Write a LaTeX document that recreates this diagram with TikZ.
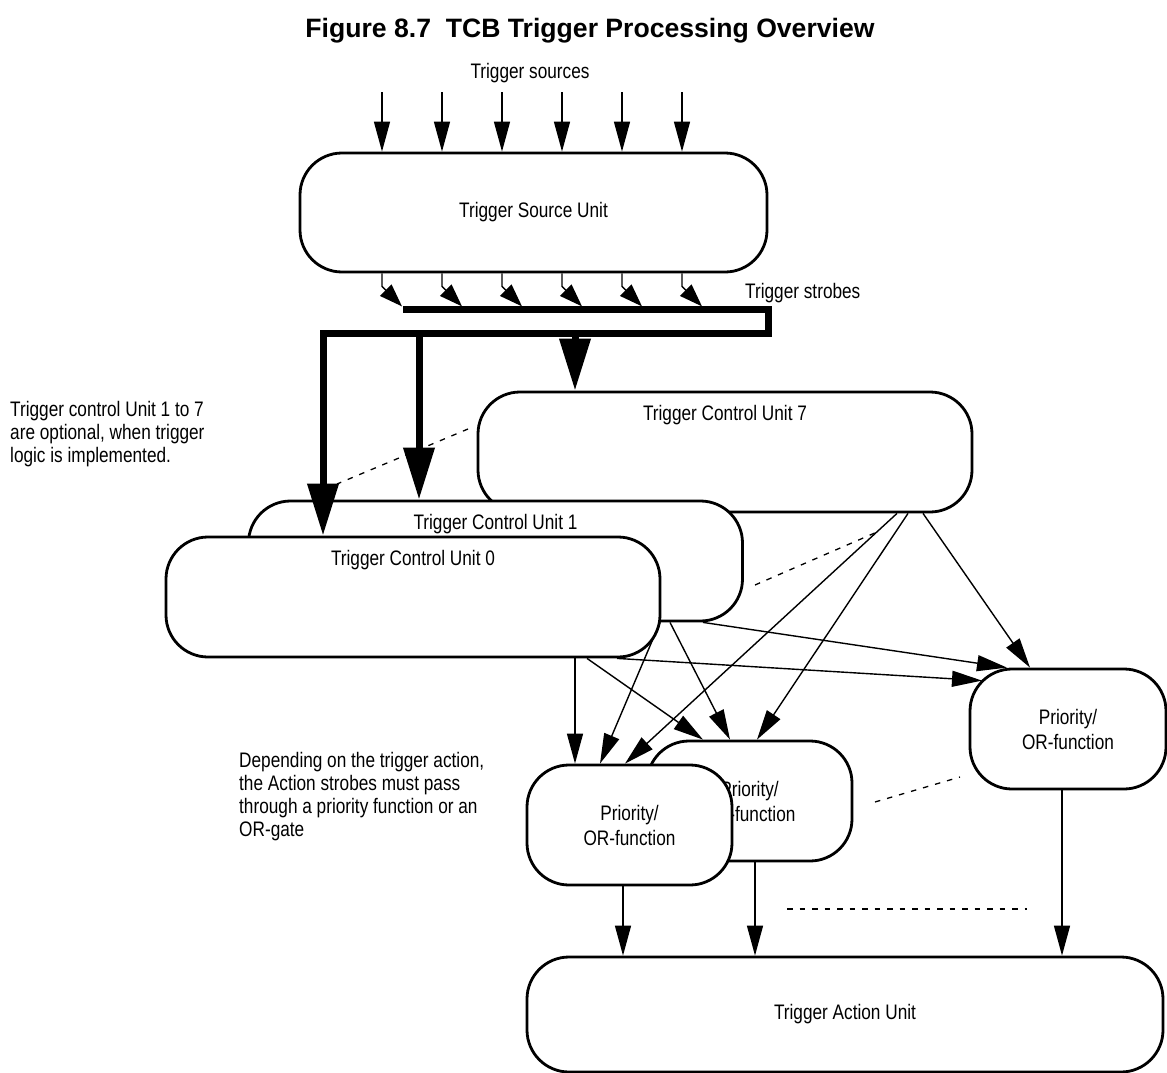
\documentclass[tikz,border=0pt]{standalone}
\usepackage{fontspec}
\setmainfont{Liberation Sans}[FakeStretch=0.82]
\newfontfamily\titlefont{Liberation Sans}
\usepackage{tikz}
\usetikzlibrary{arrows.meta}

\begin{document}
\begin{tikzpicture}[
    x=1pt, y=-1pt,
    box/.style={draw, fill=white, rounded corners=42pt, line width=2.8pt,
                font=\fontsize{21}{23}\selectfont},
    unit/.style={box, minimum width=494pt, minimum height=120pt, inner sep=0pt,
                 text height=28.5pt, text depth=91.5pt},
    prio/.style={box, minimum width=205pt, minimum height=120pt, align=center,
                 font=\fontsize{21}{25}\selectfont},
    arr/.style={-{Triangle[length=30pt, width=16pt]}, line width=1.4pt},
    bus/.style={-{Triangle[length=52pt, width=30pt]}, line width=7pt},
    dots/.style={line width=1.3pt, dash pattern=on 5.5pt off 7pt},
    lbl/.style={font=\fontsize{21}{23}\selectfont, inner sep=0pt},
    note/.style={lbl, align=left, anchor=west},
]
    \useasboundingbox (0,0) rectangle (1167,1073);

    % Title
    \node[lbl, font=\titlefont\bfseries\fontsize{26.6}{30}\selectfont] (title) at (590,31)
        {Figure 8.7~~TCB Trigger Processing Overview};

    % Source unit
    \node[box, minimum width=467pt, minimum height=119pt] (tsu) at (533.5,212.5)
        {Trigger Source Unit};
    \node[lbl] (srclbl) at (530,73) {Trigger sources};

    % Control units, back to front
    \node[unit] (tcu7) at (725,452) {Trigger Control Unit 7};
    \node[unit] (tcu1) at (495.5,561) {Trigger Control Unit 1};
    \node[unit] (tcu0) at (413,597) {Trigger Control Unit 0};

    % Priority / OR functions
    \node[prio] (prm) at (749.5,801) {Priority/\\OR-function};
    \node[prio] (prl) at (629.5,825) {Priority/\\OR-function};
    \node[prio, minimum width=196pt] (prr) at (1068,729) {Priority/\\OR-function};

    % Action unit
    \node[box, minimum width=636pt, minimum height=115pt] (tau) at (845,1014.5)
        {Trigger Action Unit};

    % Notes
    \node[lbl, anchor=west] (strlbl) at (745,293) {Trigger strobes};
    \node[note] (optnote) at (10,434)
        {Trigger control Unit 1 to 7\\are optional, when trigger\\logic is implemented.};
    \node[note] (actnote) at (239,796.5)
        {Depending on the trigger action,\\the Action strobes must pass\\through a priority function or an\\OR-gate};

    % Sources and strobes
    \foreach \x [count=\i] in {382,442,502,562,622,682} {
        \coordinate (src\i) at (\x,92);
        \draw[arr] (src\i) -- (src\i |- tsu.north);
        \draw[arr, -{Triangle[length=23pt, width=16pt]}]
            (src\i |- tsu.south) -- ++(0,13) -- ++(20,20);
    }

    % Strobe bus
    \coordinate (busA) at (403,309);
    \coordinate (busB) at (768,333);
    \coordinate (tap0) at (323,333);
    \coordinate (tap1) at (419,333);
    \coordinate (tap7) at (575,333);
    \draw[bus] (busA) -| (busB) -- (tap0) -- (tap0 |- tcu0.north);
    \draw[bus] (tap1) -- (tap1 |- tcu1.north);
    \draw[bus] (tap7) -- (tap7 |- tcu7.north);

    % Control units to priority functions
    \draw[arr] ([xshift=162pt]tcu0.south) -- ([xshift=162pt]tcu0.south |- prl.north);
    \draw[arr] ([xshift=174pt]tcu0.south) -- ([xshift=-46.5pt]prm.north);
    \draw[arr] ([xshift=204pt]tcu0.south) -- ([xshift=-86pt, yshift=-13pt]prr.north);
    \draw[arr] ([xshift=164.5pt]tcu1.south) -- ([xshift=-29.5pt]prl.north);
    \draw[arr] ([xshift=174.5pt]tcu1.south) -- ([xshift=-19.5pt]prm.north);
    \draw[arr] ([xshift=207.5pt]tcu1.south) -- ([xshift=-61pt]prr.north);
    \draw[arr] ([xshift=172pt]tcu7.south) -- ([xshift=-4.5pt]prl.north);
    \draw[arr] ([xshift=183pt]tcu7.south) -- ([xshift=7.5pt]prm.north);
    \draw[arr] ([xshift=198pt]tcu7.south) -- ([xshift=-38pt]prr.north);

    % Priority functions to action unit
    \draw[arr] ([xshift=-6.5pt]prl.south) -- ([xshift=-6.5pt]prl.south |- tau.north);
    \draw[arr] ([xshift=5.5pt]prm.south) -- ([xshift=5.5pt]prm.south |- tau.north);
    \draw[arr] ([xshift=-6pt]prr.south) -- ([xshift=-6pt]prr.south |- tau.north);

    % More units in between
    \draw[dots] (468,429) -- (337,484);
    \draw[dots] (755,585) -- (877,532);
    \draw[dots] (875,802) -- (960,777);
    \draw[dots] (787,909) -- (1027,909);
\end{tikzpicture}
\end{document}
